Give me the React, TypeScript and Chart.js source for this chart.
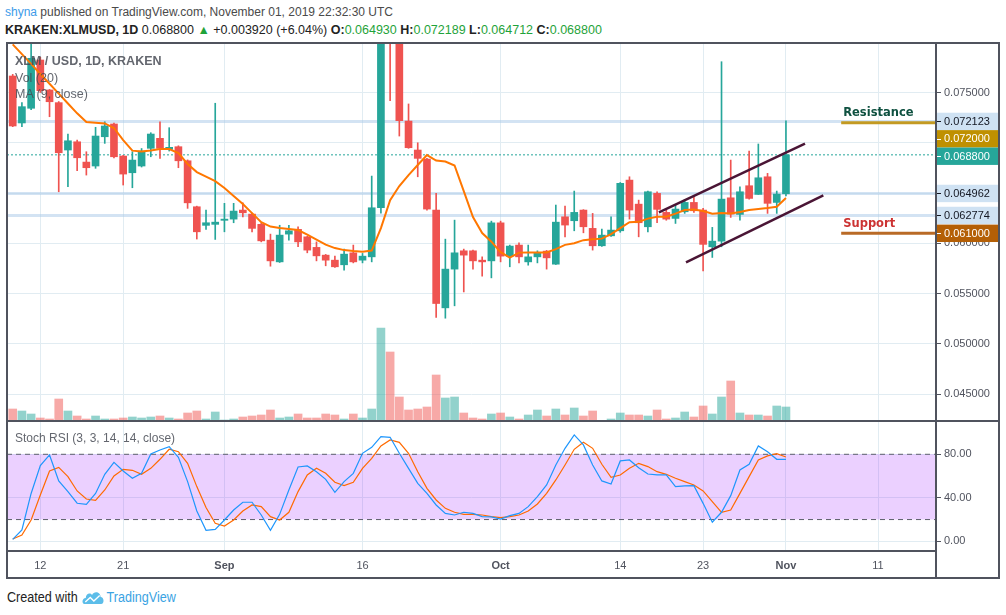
import React, { useEffect, useRef } from 'react';
import { Chart, registerables } from 'chart.js';

Chart.register(...registerables);

// ---------------- data ----------------
// day index 0 = Aug 9 2019, one candle per day up to index 84 = Nov 1 2019
const TICK_INDEX = [3, 12, 23, 38, 53, 66, 75, 84, 94];
const TICK_LABELS = ['12', '21', 'Sep', '16', 'Oct', '14', '23', 'Nov', '11'];
const MONTH_LABELS = ['Sep', 'Oct', 'Nov'];

const OPEN = [
  0.07664, 0.07197, 0.07343, 0.07823, 0.07525, 0.07399, 0.06928, 0.0701, 0.06808, 0.06769,
  0.0706, 0.07187, 0.06868, 0.06702, 0.06769, 0.06945, 0.07044, 0.06935, 0.06961, 0.06821,
  0.06364, 0.06179, 0.06189, 0.06229, 0.06241, 0.06331, 0.06291, 0.06189, 0.06032, 0.05816,
  0.06092, 0.06139, 0.06065, 0.0596, 0.05883, 0.05833, 0.05787, 0.05906, 0.05833, 0.05866,
  0.06354, 0.0855, 0.0825, 0.07216, 0.06928, 0.06838, 0.06331, 0.05359, 0.05744, 0.05926,
  0.05926, 0.05833, 0.05826, 0.06204, 0.05873, 0.05983, 0.05816, 0.05866, 0.05923, 0.05793,
  0.06264, 0.06225, 0.06331, 0.06149, 0.05976, 0.06075, 0.06125, 0.06629, 0.0639, 0.06165,
  0.06497, 0.06308, 0.06248, 0.06314, 0.06407, 0.06331, 0.05966, 0.06022, 0.06453, 0.06288,
  0.06573, 0.06487, 0.06662, 0.06407, 0.06493,
];
const HIGH = [
  0.0768, 0.074, 0.0815, 0.0785, 0.0753, 0.0741, 0.07087, 0.07027, 0.06911, 0.07154,
  0.07209, 0.07195, 0.06875, 0.06911, 0.06943, 0.071, 0.07209, 0.0715, 0.0697, 0.0683,
  0.0637, 0.06331, 0.07393, 0.06398, 0.06398, 0.06404, 0.063, 0.062, 0.06092, 0.0618,
  0.0618, 0.06165, 0.0607, 0.06015, 0.0589, 0.05873, 0.05943, 0.05983, 0.059, 0.06669,
  0.089, 0.088, 0.084, 0.07386, 0.07, 0.06845, 0.06497, 0.06042, 0.06231, 0.05943,
  0.05933, 0.05866, 0.06221, 0.06221, 0.05983, 0.06005, 0.05983, 0.05926, 0.0593, 0.06381,
  0.06371, 0.0652, 0.06335, 0.06298, 0.06142, 0.06265, 0.06605, 0.06662, 0.0643, 0.0652,
  0.06513, 0.0633, 0.06381, 0.06437, 0.06463, 0.06348, 0.06159, 0.07806, 0.06828, 0.06563,
  0.06918, 0.06988, 0.06696, 0.0652, 0.072189,
];
const LOW = [
  0.0716, 0.0716, 0.0733, 0.075, 0.07259, 0.06513, 0.06563, 0.06722, 0.06679, 0.06746,
  0.06994, 0.0685, 0.0658, 0.06553, 0.06759, 0.06861, 0.06845, 0.06918, 0.06752, 0.06348,
  0.06043, 0.06139, 0.06039, 0.06115, 0.06205, 0.06264, 0.06115, 0.06015, 0.05773, 0.0581,
  0.06032, 0.05966, 0.05906, 0.05826, 0.05777, 0.05761, 0.05734, 0.05806, 0.05806, 0.05816,
  0.063, 0.07418, 0.07067, 0.06945, 0.06662, 0.0633, 0.05263, 0.05256, 0.05379, 0.05517,
  0.05744, 0.05674, 0.05657, 0.05816, 0.05767, 0.05806, 0.05783, 0.05806, 0.05744, 0.0579,
  0.06065, 0.06125, 0.06105, 0.05933, 0.0597, 0.0607, 0.0611, 0.06241, 0.06065, 0.06115,
  0.06205, 0.0623, 0.06198, 0.06298, 0.06308, 0.05727, 0.0586, 0.05966, 0.06258, 0.06231,
  0.0644, 0.06487, 0.06298, 0.06298, 0.064712,
];
const CLOSE = [
  0.07167, 0.07359, 0.0784, 0.07518, 0.07408, 0.06901, 0.0702, 0.06851, 0.06752, 0.07067,
  0.07167, 0.06861, 0.06689, 0.06828, 0.06918, 0.07087, 0.06945, 0.06955, 0.06821, 0.06403,
  0.06115, 0.06205, 0.06211, 0.06241, 0.06321, 0.06304, 0.06149, 0.06025, 0.05826, 0.06082,
  0.06125, 0.06015, 0.05933, 0.05876, 0.05833, 0.05767, 0.05893, 0.05816, 0.05873, 0.06354,
  0.0855, 0.0825, 0.07219, 0.06951, 0.06845, 0.06341, 0.05402, 0.05744, 0.05906, 0.05883,
  0.05826, 0.05816, 0.06204, 0.05873, 0.05973, 0.05866, 0.05866, 0.05906, 0.05856, 0.06211,
  0.06182, 0.06308, 0.06165, 0.05976, 0.06082, 0.06132, 0.06597, 0.06331, 0.06205, 0.06513,
  0.06338, 0.06241, 0.06341, 0.06407, 0.06324, 0.0599, 0.06022, 0.0644, 0.06291, 0.06513,
  0.06447, 0.06652, 0.06398, 0.0649, 0.0688,
];
// volume (millions XLM)
const VOLUME = [
  12, 10, 7, 3, 2, 22, 10, 5, 2, 5,
  2, 2, 3, 4, 3, 4, 5, 3, 2, 8,
  10, 2, 9, 1, 2, 4, 5, 6, 11, 3,
  4, 7, 3, 3, 7, 6, 2, 7, 3, 12,
  93, 69, 24, 11, 12, 14, 46, 23, 24, 8,
  3, 2, 7, 8, 4, 2, 6, 11, 5, 12,
  6, 13, 5, 10, 0.3, 2, 8, 6, 6, 5,
  11, 2, 3, 9, 4, 15, 7, 24, 40, 8,
  6, 6, 5, 15, 14,
];
const MA9 = [
  0.07979, 0.07881, 0.07784, 0.07684, 0.07587, 0.07489, 0.07391, 0.07293, 0.07206, 0.072,
  0.07192, 0.07147, 0.07027, 0.06922, 0.06913, 0.06923, 0.06938, 0.06938, 0.06898, 0.06789,
  0.06709, 0.06664, 0.06619, 0.0655, 0.0647, 0.06391, 0.06301, 0.06211, 0.06167, 0.06152,
  0.06142, 0.06132, 0.06087, 0.06037, 0.05988, 0.05953, 0.05933, 0.05923, 0.05916, 0.05928,
  0.06152, 0.0643, 0.0657, 0.06679, 0.06779, 0.06878, 0.06823, 0.06813, 0.06774, 0.0652,
  0.06261, 0.06102, 0.06017, 0.05913, 0.05858, 0.05908, 0.0591, 0.0591, 0.0591, 0.05943,
  0.05985, 0.06002, 0.06032, 0.0604, 0.06047, 0.06092, 0.06152, 0.06211, 0.06214, 0.06246,
  0.06264, 0.06264, 0.06296, 0.06331, 0.06336, 0.06321, 0.06294, 0.06303, 0.06298, 0.06311,
  0.06331, 0.06341, 0.06351, 0.06364, 0.0645,
];
const STOCH_K = [
  1.8, 10.4, 44, 69.6, 79.4, 55.5, 45.7, 35, 34, 44,
  61.6, 72.6, 64.7, 58, 62.5, 80.3, 84, 87, 77.2, 54.9,
  27.9, 10.1, 11, 19.6, 28.8, 35.9, 35.9, 24.2, 10.1, 24.8,
  47.2, 68.3, 69.3, 64, 57, 45, 54.9, 62.5, 80.9, 86.4,
  96.2, 95.6, 80.9, 67.1, 53.3, 44.1, 33.4, 25.7, 24.2, 26.7,
  25.7, 22.7, 22.4, 20.5, 23.6, 25.7, 31.9, 41.1, 51.8, 70.2,
  85.5, 97.8, 88.6, 70.2, 55.5, 52.7, 73.9, 74.8, 67.7, 61.9,
  61, 61, 50.3, 50.9, 51.2, 34.9, 17.5, 26.7, 42, 65.6,
  70.8, 87.7, 82.4, 75.4, 75.4,
];
const STOCH_D = [
  2.1, 5.8, 19.6, 42.6, 64.7, 68, 59.5, 46.3, 38.9, 37.7,
  47.2, 60.1, 66.2, 65.3, 61.6, 67.1, 75.4, 84.6, 82.4, 71.7,
  50.3, 31, 16.6, 14.1, 19.6, 27.9, 33.4, 31.9, 22.7, 19.6,
  26.7, 45.7, 61, 67.1, 62.5, 54.3, 51.2, 54.3, 67.1, 76.3,
  87.7, 93.2, 91, 80.9, 64, 48.7, 38, 30.3, 26.7, 24.8,
  24.8, 24.2, 22.7, 21.8, 22.7, 24.2, 27.9, 34.3, 44.1, 56.4,
  70.2, 84.6, 91, 85.5, 70.8, 58.8, 61, 67.1, 71.7, 68.7,
  64, 61.6, 58, 54.9, 51.8, 46.3, 36.5, 26.7, 28.8, 44.1,
  59.5, 74.8, 78.5, 80.6, 77.5,
];
const PRICE_TICKS = [0.045, 0.05, 0.055, 0.06, 0.065, 0.07, 0.075];
const STOCH_TICKS = [0, 40, 80];
const STOCH_BAND = [20, 80];
const H_LEVELS = [0.072123, 0.064962, 0.062774];
const LAST_PRICE = 0.0688;
const RESISTANCE = 0.072;
const SUPPORT = 0.061;
const LEVEL_START = 90;
const CHANNEL_UPPER = [[70.2, 0.06308], [86.07, 0.06991]];
const CHANNEL_LOWER = [[73.14, 0.0581], [88.06, 0.06477]];
const TAG_VALUES = [0.072123, RESISTANCE, LAST_PRICE, 0.064962, 0.062774, SUPPORT];

// ---------------- styling ----------------
const X_MIN = -0.62;
const X_MAX = 100.3;
const PRICE_MIN = 0.04234;
const PRICE_MAX = 0.07992;
const STOCH_MIN = -8.9;
const STOCH_MAX = 110.6;
const FONT = "'Liberation Sans', Arial, sans-serif";
const GRID = '#e1ecf2';
const AXIS_TEXT = '#50535e';
const AXIS_LINE = '#50535e';
const TEAL = '#26a69a';
const RED = '#ef5350';
const TAG_STYLES = [
  { bg: '#cfe2f3', fg: '#131722' },
  { bg: '#bf9000', fg: '#ffffff' },
  { bg: '#26a69a', fg: '#ffffff' },
  { bg: '#cfe2f3', fg: '#131722' },
  { bg: '#cfe2f3', fg: '#131722' },
  { bg: '#b45f06', fg: '#ffffff' },
];

const IDX = OPEN.map((_, i) => i);
const isUp = (i: number) => CLOSE[i] >= OPEN[i];

const hline = (v: number, from: number, to: number) => [
  { x: from, y: v },
  { x: to, y: v },
];

const annotationPlugin = {
  id: 'annotations',
  afterDatasetsDraw(chart: any) {
    const { ctx, scales } = chart;
    const x = scales.x;
    const y = scales.y;
    ctx.save();
    ctx.font = "bold 11.5px 'DejaVu Sans', sans-serif";
    ctx.textBaseline = 'middle';
    ctx.textAlign = 'left';
    ctx.fillStyle = '#0f5140';
    ctx.fillText('Resistance', x.getPixelForValue(LEVEL_START) + 2, y.getPixelForValue(RESISTANCE) - 10);
    ctx.fillStyle = '#cc3333';
    ctx.fillText('Support', x.getPixelForValue(LEVEL_START) + 2, y.getPixelForValue(SUPPORT) - 9);
    ctx.restore();
  },
  afterDraw(chart: any) {
    const { ctx, chartArea, scales } = chart;
    const y = scales.y;
    const h = 17.4;
    const items = TAG_VALUES.map((v, i) => ({ v, s: TAG_STYLES[i], py: y.getPixelForValue(v) })).sort(
      (a, b) => a.py - b.py,
    );
    let prevBottom = -Infinity;
    ctx.save();
    ctx.font = `11px ${FONT}`;
    ctx.textBaseline = 'middle';
    ctx.textAlign = 'left';
    for (const it of items) {
      const cy = Math.max(it.py, prevBottom + h / 2);
      prevBottom = cy + h / 2;
      ctx.fillStyle = it.s.bg;
      ctx.fillRect(chartArea.right + 1, cy - h / 2, 63, h);
      ctx.strokeStyle = it.s.fg;
      ctx.lineWidth = 1;
      ctx.beginPath();
      ctx.moveTo(chartArea.right + 1, Math.round(cy) + 0.5);
      ctx.lineTo(chartArea.right + 5, Math.round(cy) + 0.5);
      ctx.stroke();
      ctx.fillStyle = it.s.fg;
      ctx.fillText(it.v.toFixed(6), chartArea.right + 8, cy + 0.5);
    }
    ctx.restore();
  },
};

function mainConfig(): any {
  const candleColors = IDX.map((i) => (isUp(i) ? TEAL : RED));
  const volColors = IDX.map((i) => (isUp(i) ? 'rgba(38,166,154,0.5)' : 'rgba(239,83,80,0.5)'));
  const line = (data: any[], color: string, width: number, order: number, extra: any = {}) => ({
    type: 'line',
    data,
    borderColor: color,
    borderWidth: width,
    pointRadius: 0,
    tension: 0,
    fill: false,
    order,
    yAxisID: 'y',
    ...extra,
  });
  return {
    type: 'bar',
    data: {
      datasets: [
        line(hline(RESISTANCE, LEVEL_START, X_MAX), '#c39a22', 3, 1),
        line(hline(SUPPORT, LEVEL_START, X_MAX), '#b96a26', 3, 1),
        line(CHANNEL_UPPER.map(([x, y]) => ({ x, y })), '#4a1535', 2.5, 2),
        line(CHANNEL_LOWER.map(([x, y]) => ({ x, y })), '#4a1535', 2.5, 2),
        line(MA9.map((y, i) => ({ x: i, y })), '#ff7700', 2, 3),
        {
          type: 'bar',
          label: 'body',
          data: IDX.map((i) => ({ x: i, y: [OPEN[i], CLOSE[i]] })),
          backgroundColor: candleColors,
          barThickness: 7,
          minBarLength: 1,
          grouped: false,
          order: 4,
          yAxisID: 'y',
        },
        {
          type: 'bar',
          label: 'wick',
          data: IDX.map((i) => ({ x: i, y: [LOW[i], HIGH[i]] })),
          backgroundColor: candleColors,
          barThickness: 1,
          grouped: false,
          order: 5,
          yAxisID: 'y',
        },
        line(hline(LAST_PRICE, X_MIN, X_MAX), TEAL, 1, 6, { borderDash: [2, 2] }),
        ...H_LEVELS.map((v) => line(hline(v, X_MIN, X_MAX), 'rgba(167,199,231,0.5)', 3, 7)),
        {
          type: 'bar',
          label: 'volume',
          data: IDX.map((i) => ({ x: i, y: VOLUME[i] })),
          backgroundColor: volColors,
          barThickness: 8,
          grouped: false,
          order: 10,
          yAxisID: 'yVol',
        },
      ],
    },
    options: {
      responsive: false,
      animation: false,
      events: [],
      layout: { padding: { left: 7, right: 0, top: 0, bottom: 0 } },
      plugins: { legend: { display: false }, tooltip: { enabled: false } },
      scales: {
        x: {
          type: 'linear',
          min: X_MIN,
          max: X_MAX,
          offset: false,
          afterBuildTicks: (s: any) => {
            s.ticks = TICK_INDEX.map((v) => ({ value: v }));
          },
          ticks: { display: false },
          grid: { color: GRID, drawTicks: false, offset: false },
          border: { display: false },
          afterFit: (s: any) => {
            s.height = 0;
            s.paddingLeft = 0;
            s.paddingRight = 0;
          },
        },
        y: {
          type: 'linear',
          position: 'right',
          min: PRICE_MIN,
          max: PRICE_MAX,
          afterBuildTicks: (s: any) => {
            s.ticks = PRICE_TICKS.map((v) => ({ value: v }));
          },
          ticks: {
            callback: (v: any) => Number(v).toFixed(6),
            color: AXIS_TEXT,
            font: { family: FONT, size: 11 },
            padding: 3,
            autoSkip: false,
          },
          grid: { color: GRID, tickColor: AXIS_LINE, tickLength: 5, drawTicks: true },
          border: { display: false },
          afterFit: (s: any) => {
            s.width = 70;
            s.paddingTop = 0;
            s.paddingBottom = 0;
          },
        },
        yVol: { type: 'linear', display: false, min: 0, max: 378 },
      },
    },
    plugins: [annotationPlugin],
  };
}

function stochConfig(): any {
  return {
    type: 'line',
    data: {
      datasets: [
        {
          data: hline(STOCH_BAND[1], X_MIN, X_MAX),
          borderColor: '#5d606b',
          borderWidth: 1,
          borderDash: [5, 4],
          pointRadius: 0,
          fill: false,
          order: 5,
        },
        {
          data: hline(STOCH_BAND[0], X_MIN, X_MAX),
          borderColor: '#5d606b',
          borderWidth: 1,
          borderDash: [5, 4],
          pointRadius: 0,
          fill: '-1',
          backgroundColor: 'rgba(153,21,255,0.2)',
          order: 6,
        },
        {
          data: STOCH_D.map((y, i) => ({ x: i, y })),
          borderColor: '#ff6a00',
          borderWidth: 1.2,
          pointRadius: 0,
          tension: 0,
          fill: false,
          order: 2,
        },
        {
          data: STOCH_K.map((y, i) => ({ x: i, y })),
          borderColor: '#1e96fc',
          borderWidth: 1.2,
          pointRadius: 0,
          tension: 0,
          fill: false,
          order: 1,
        },
      ],
    },
    options: {
      responsive: false,
      animation: false,
      events: [],
      layout: { padding: { left: 7, right: 0, top: 0, bottom: 0 } },
      plugins: { legend: { display: false }, tooltip: { enabled: false } },
      scales: {
        x: {
          type: 'linear',
          min: X_MIN,
          max: X_MAX,
          offset: false,
          afterBuildTicks: (s: any) => {
            s.ticks = TICK_INDEX.map((v) => ({ value: v }));
          },
          ticks: {
            autoSkip: false,
            maxRotation: 0,
            padding: 8,
            color: AXIS_TEXT,
            callback: (v: any) => TICK_LABELS[TICK_INDEX.indexOf(Number(v))],
            font: (c: any) => ({
              family: FONT,
              size: 11,
              weight: MONTH_LABELS.includes(TICK_LABELS[c.index]) ? 'bold' : 'normal',
            }),
          },
          grid: { color: GRID, drawTicks: false, offset: false },
          border: { display: false },
          afterFit: (s: any) => {
            s.height = 27;
            s.paddingLeft = 0;
            s.paddingRight = 0;
          },
        },
        y: {
          type: 'linear',
          position: 'right',
          min: STOCH_MIN,
          max: STOCH_MAX,
          afterBuildTicks: (s: any) => {
            s.ticks = STOCH_TICKS.map((v) => ({ value: v }));
          },
          ticks: {
            callback: (v: any) => Number(v).toFixed(2),
            color: AXIS_TEXT,
            font: { family: FONT, size: 11 },
            padding: 3,
            autoSkip: false,
          },
          grid: { color: GRID, tickColor: AXIS_LINE, tickLength: 5, drawTicks: true },
          border: { display: false },
          afterFit: (s: any) => {
            s.width = 70;
            s.paddingTop = 0;
            s.paddingBottom = 0;
          },
        },
      },
    },
  };
}

const HEADER_FONT = "'Liberation Sans', Arial, sans-serif";
const GREEN = '#1fa33a';

function Line({ left, top, width, height }: { left: number; top: number; width: number; height: number }) {
  return <div style={{ position: 'absolute', left, top, width, height, background: AXIS_LINE }} />;
}

export default function App() {
  const mainRef = useRef<HTMLCanvasElement>(null);
  const stochRef = useRef<HTMLCanvasElement>(null);

  useEffect(() => {
    const a = new Chart(mainRef.current as HTMLCanvasElement, mainConfig());
    const b = new Chart(stochRef.current as HTMLCanvasElement, stochConfig());
    return () => {
      a.destroy();
      b.destroy();
    };
  }, []);

  const legendStyle: React.CSSProperties = {
    position: 'absolute',
    left: 15,
    fontFamily: FONT,
    fontSize: 12.5,
    color: 'rgba(72,75,85,0.85)',
    whiteSpace: 'nowrap',
    lineHeight: '14px',
  };

  return (
    <div
      style={{
        position: 'absolute',
        left: 0,
        top: 0,
        width: 1006,
        height: 615,
        background: '#ffffff',
        overflow: 'hidden',
        fontFamily: HEADER_FONT,
      }}
    >
      <div
        style={{
          position: 'absolute',
          left: 5,
          top: 4,
          fontSize: 12,
          color: '#4a4a4a',
          whiteSpace: 'nowrap',
          lineHeight: '16px',
        }}
      >
        <span style={{ color: '#3d9be9' }}>shyna</span> published on TradingView.com, November 01, 2019 22:32:30 UTC
      </div>
      <div
        style={{
          position: 'absolute',
          left: 5,
          top: 22,
          fontSize: 12.5,
          color: '#222',
          whiteSpace: 'nowrap',
          lineHeight: '16px',
        }}
      >
        <b>KRAKEN:XLMUSD, 1D</b> 0.068800 <span style={{ color: GREEN }}>▲</span> +0.003920 (+6.04%){' '}
        <b>O:</b>
        <span style={{ color: GREEN }}>0.064930</span> <b>H:</b>
        <span style={{ color: GREEN }}>0.072189</span> <b>L:</b>
        <span style={{ color: GREEN }}>0.064712</span> <b>C:</b>
        <span style={{ color: GREEN }}>0.068800</span>
      </div>

      <canvas
        ref={mainRef}
        width={1006}
        height={378}
        style={{ position: 'absolute', left: 0, top: 43, width: 1006, height: 378 }}
      />
      <canvas
        ref={stochRef}
        width={1006}
        height={157}
        style={{ position: 'absolute', left: 0, top: 421, width: 1006, height: 157 }}
      />

      <div style={{ ...legendStyle, top: 54, fontWeight: 'bold' }}>XLM / USD, 1D, KRAKEN</div>
      <div style={{ ...legendStyle, top: 71 }}>Vol (20)</div>
      <div style={{ ...legendStyle, top: 87 }}>MA (9, close)</div>
      <div style={{ ...legendStyle, top: 431, fontSize: 12 }}>Stoch RSI (3, 3, 14, 14, close)</div>

      {/* frame */}
      <Line left={6} top={42} width={994} height={2} />
      <Line left={6} top={42} width={2} height={537} />
      <Line left={998} top={42} width={2} height={537} />
      <Line left={6} top={577} width={994} height={2} />
      <Line left={935} top={42} width={2} height={537} />
      <Line left={6} top={420} width={994} height={2} />
      <Line left={6} top={550} width={931} height={2} />

      <div
        style={{
          position: 'absolute',
          left: 7,
          top: 589,
          fontSize: 14,
          color: '#222',
          whiteSpace: 'nowrap',
          display: 'flex',
          alignItems: 'center',
          transform: 'scaleX(0.9)',
          transformOrigin: 'left top',
        }}
      >
        <span>Created with</span>
        <svg width="26" height="16" viewBox="0 0 26 16" style={{ margin: '0 2px 0 4px' }}>
          <path
            d="M3 15 C0 15 0 9 4.5 9 C4.5 5 9 3 11.5 6 C13.5 1.5 21 2.5 21 8 C25 8 25.5 15 21.5 15 Z"
            fill="#5cbde9"
          />
          <path d="M4 13 L9.5 8.5 L13.5 12 L20 6.5" stroke="#ffffff" strokeWidth="1.6" fill="none" />
        </svg>
        <span style={{ color: '#3aa3e3' }}>TradingView</span>
      </div>
    </div>
  );
}
